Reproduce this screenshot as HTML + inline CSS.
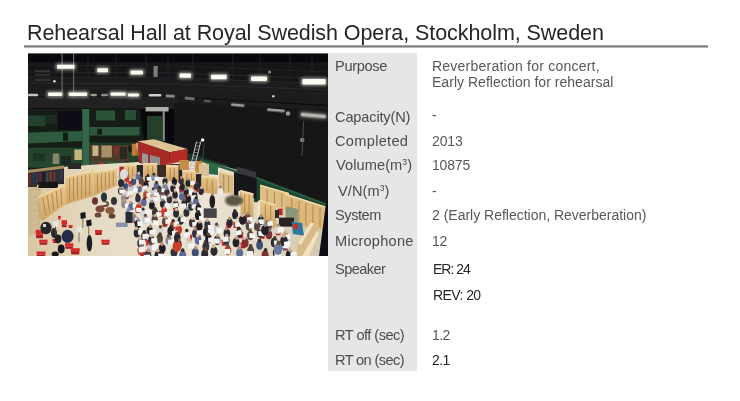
<!DOCTYPE html>
<html lang="en">
<head>
<meta charset="utf-8">
<title>Rehearsal Hall at Royal Swedish Opera, Stockholm, Sweden</title>
<style>
html,body{margin:0;padding:0;background:#fff;}
body{width:740px;height:401px;position:relative;overflow:hidden;font-family:"Liberation Sans",sans-serif;}
.t{position:absolute;white-space:nowrap;line-height:20px;will-change:transform;}
#title{left:27.1px;top:20px;letter-spacing:-0.07px;font-size:21.5px;color:#262626;line-height:26px;}
#rule{position:absolute;left:24px;top:45px;width:684px;height:3px;background:linear-gradient(#a4a4a4 0,#a4a4a4 1px,#7e7e7e 1px,#7e7e7e 2px,#b4b4b4 2px,#b4b4b4 3px);}
#grey{position:absolute;left:328px;top:53px;width:89px;height:318px;background:#e6e6e6;}
#photo{position:absolute;left:28px;top:53px;width:300px;height:203px;overflow:hidden;background:#111;}
.l{left:336px;font-size:14.6px;color:#4c4c4c;}
.v{left:433px;font-size:14px;color:#585858;}
.d{color:#262626;}
sup{font-size:8.5px;line-height:0;vertical-align:5px;}
</style>
</head>
<body>
<div id="title" class="t">Rehearsal Hall at Royal Swedish Opera, Stockholm, Sweden</div>
<div id="rule"></div>
<div id="photo"><!--PHOTO--><svg width="300" height="203" viewBox="0 0 300 203" style="display:block">
<defs>
<filter id="b1" x="-5%" y="-5%" width="110%" height="110%"><feGaussianBlur stdDeviation="0.65"/></filter>
<filter id="b2" x="-30%" y="-80%" width="160%" height="260%"><feGaussianBlur stdDeviation="1.8"/></filter>
<filter id="b3" x="-5%" y="-5%" width="110%" height="110%"><feGaussianBlur stdDeviation="0.9"/></filter>
<linearGradient id="floorg" x1="0" y1="0" x2="1" y2="0"><stop offset="0" stop-color="#d9c7a2"/><stop offset="0.25" stop-color="#e6dcc6"/><stop offset="0.6" stop-color="#ebe4d4"/><stop offset="1" stop-color="#d2c6ae"/></linearGradient>
<linearGradient id="wood" x1="0" y1="0" x2="0" y2="1"><stop offset="0" stop-color="#e9c88c"/><stop offset="1" stop-color="#d0a468"/></linearGradient>
</defs>
<rect x="0" y="0" width="300" height="203" fill="#09090d"/>
<g filter="url(#b1)">
<rect x="0" y="9" width="300" height="36" fill="#131317"/>
<polygon points="0,24 150,25 300,31 300,52 150,44 0,43" fill="#1a1a1c"/>
<line x1="0" y1="12" x2="150" y2="13" stroke="#232327" stroke-width="1.2"/>
<line x1="150" y1="13" x2="300" y2="19" stroke="#232327" stroke-width="1.2"/>
<line x1="0" y1="19" x2="150" y2="20" stroke="#2a2a2e" stroke-width="1.2"/>
<line x1="150" y1="20" x2="300" y2="26" stroke="#2a2a2e" stroke-width="1.2"/>
<line x1="0" y1="24" x2="150" y2="25" stroke="#26262a" stroke-width="1.2"/>
<line x1="150" y1="25" x2="300" y2="31" stroke="#26262a" stroke-width="1.2"/>
<line x1="0" y1="30" x2="150" y2="31" stroke="#2c2c30" stroke-width="1.2"/>
<line x1="150" y1="31" x2="300" y2="37" stroke="#2c2c30" stroke-width="1.2"/>
<line x1="0" y1="34" x2="150" y2="35" stroke="#222226" stroke-width="1.2"/>
<line x1="150" y1="35" x2="300" y2="41" stroke="#222226" stroke-width="1.2"/>
<line x1="60" y1="0" x2="60" y2="40" stroke="#222226" stroke-width="1.0"/>
<line x1="88" y1="0" x2="88" y2="40" stroke="#222226" stroke-width="1.0"/>
<line x1="118" y1="0" x2="118" y2="40" stroke="#222226" stroke-width="1.0"/>
<line x1="140" y1="0" x2="140" y2="40" stroke="#222226" stroke-width="1.0"/>
<line x1="165" y1="0" x2="165" y2="40.9" stroke="#222226" stroke-width="1.0"/>
<line x1="205" y1="0" x2="205" y2="43.3" stroke="#222226" stroke-width="1.0"/>
<line x1="232" y1="0" x2="232" y2="44.9" stroke="#222226" stroke-width="1.0"/>
<line x1="262" y1="0" x2="262" y2="46.7" stroke="#222226" stroke-width="1.0"/>
<line x1="284" y1="0" x2="284" y2="48" stroke="#222226" stroke-width="1.0"/>
<line x1="7" y1="18" x2="22" y2="18" stroke="#5a5a60" stroke-width="0.8"/>
<line x1="7" y1="22" x2="22" y2="22" stroke="#5a5a60" stroke-width="0.8"/>
<line x1="7" y1="27" x2="22" y2="27" stroke="#5a5a60" stroke-width="0.8"/>
<line x1="34.1" y1="0" x2="34.1" y2="55" stroke="#66666c" stroke-width="1.2"/>
<line x1="45.6" y1="0" x2="45.6" y2="55" stroke="#66666c" stroke-width="1.2"/>
<line x1="33" y1="50" x2="46" y2="50" stroke="#55555a" stroke-width="0.8"/>
<line x1="33" y1="45" x2="46" y2="45" stroke="#4a4a50" stroke-width="0.8"/>
<polygon points="0,43.5 150,44.5 150,56 0,55" fill="#212123"/>
<polygon points="150,44.5 300,53 300,59 150,51" fill="#1c1c1e"/>
<polygon points="0,55.5 112,56 116,88 112,112 0,120" fill="#181c16"/>
<rect x="0" y="62.5" width="18" height="10.5" fill="#24422f"/>
<rect x="17" y="62" width="12" height="9" fill="#1c2c20"/>
<rect x="68" y="57.5" width="19" height="10" fill="#2c5238"/>
<rect x="97" y="57" width="11" height="10" fill="#2a4e36"/>
<rect x="61.5" y="74" width="50" height="8.5" fill="#2e583c"/>
<rect x="69.2" y="75.8" width="4.8" height="5.8" fill="#141a14"/>
<polygon points="0,79.5 54,78 54,88 0,90.5" fill="#2d5a3c"/>
<rect x="35" y="79.7" width="5" height="8" fill="#101a15"/>
<rect x="0" y="94.6" width="54" height="20" fill="#25452f"/>
<rect x="24.7" y="100.5" width="6.5" height="10.5" fill="#86866a"/>
<rect x="46.4" y="96.5" width="7.5" height="10.5" fill="#c4b47e"/>
<rect x="33" y="103" width="10" height="9" fill="#1c2a20"/>
<rect x="5" y="100" width="12" height="8" fill="#1e3426"/>
<rect x="61" y="89.5" width="50" height="3.5" fill="#1e3826"/>
<rect x="30" y="58" width="23.8" height="19.4" fill="#0e1012"/>
<rect x="54.3" y="56" width="7" height="59.5" fill="#356648"/>
<rect x="119" y="63" width="15" height="25" fill="#223f2c"/>
<rect x="100" y="99" width="12" height="10" fill="#24402c"/>
<rect x="61.4" y="92" width="39" height="16.5" fill="#4e3b2a"/>
<rect x="64.4" y="92.5" width="6" height="10.5" fill="#c4b48c"/>
<rect x="73.4" y="92.5" width="10.5" height="12" fill="#a89068"/>
<rect x="86" y="93" width="5" height="9" fill="#7a3028"/>
<rect x="92" y="94" width="7" height="12" fill="#2a2622"/>
<rect x="61.4" y="108" width="36" height="7" fill="#3a4a38"/>
<rect x="70" y="109.5" width="6" height="4" fill="#a03040"/>
<rect x="80" y="108.5" width="8" height="4" fill="#2c5a3a"/>
<rect x="103.8" y="90.7" width="5.7" height="12" fill="#c07c36"/>
<polygon points="108,90 111,90 115,109 112,109" fill="#c8c8c8"/>
<rect x="117.6" y="54" width="23" height="4.4" fill="#b0b0a8"/>
<rect x="134.6" y="58" width="2.2" height="30" fill="#8a8a86"/>
<polygon points="146,50 300,57 300,151 226,123 176,107 146,104" fill="#151518"/>
<polygon points="160,100 200,112 200,118 176,110 160,108" fill="#1c362b"/>
<polygon points="0,117 60,112 110,109 176,108 210,117 300,152 300,203 0,203" fill="url(#floorg)"/>
<polygon points="0,134 13,133 12,178 0,184" fill="#cfba94"/>
<line x1="0" y1="138" x2="12" y2="136" stroke="#bfa985" stroke-width="0.5"/>
<line x1="0" y1="145" x2="12" y2="143" stroke="#bfa985" stroke-width="0.5"/>
<line x1="0" y1="152" x2="12" y2="150" stroke="#bfa985" stroke-width="0.5"/>
<line x1="0" y1="159" x2="12" y2="157" stroke="#bfa985" stroke-width="0.5"/>
<line x1="0" y1="166" x2="12" y2="164" stroke="#bfa985" stroke-width="0.5"/>
<line x1="0" y1="173" x2="12" y2="171" stroke="#bfa985" stroke-width="0.5"/>
<polygon points="172,106 226.5,123 300,151 300,153.6 226,125.6 172,108.6" fill="#2a5c41"/>
<polygon points="226,125 300,153 300,158 226,132" fill="#1d4533"/>
<polygon points="180,109.4 190,112 190,122 180,121" fill="#2a6a4a"/>
<polygon points="226,126 236,130 236,150 226,149" fill="#1d4533"/>
<polygon points="206,119 228.6,125 228.6,146 206,142" fill="#17171c"/>
<polygon points="209,113.5 228,119 228,125 209,119.5" fill="#38383c"/>
<polygon points="109.5,88.2 126,86.2 159.6,96 141.6,99.2" fill="#dcc294"/>
<polygon points="109.5,88.2 141.6,99.2 141.6,116 111,110" fill="#a82a26"/>
<polygon points="141.6,99.2 159.6,96 159.6,107.2 141.6,111" fill="#b42c28"/>
<polygon points="114,100 120,101.5 120,112 114,110.5" fill="#9a9a98"/>
<polygon points="122,102 132,104.5 132,114 122,112" fill="#8e8e8c"/>
<rect x="142" y="111" width="17" height="6" fill="#3a3634"/>
<rect x="151.4" y="107" width="9.6" height="10" fill="#c48c4c"/>
<rect x="167" y="108" width="7" height="12" fill="#c8883e"/>
<rect x="171" y="111" width="10" height="12" fill="#d8c098"/>
<line x1="168.6" y1="88.5" x2="161.4" y2="117.7" stroke="#c4c4cc" stroke-width="1.0"/>
<line x1="172.8" y1="88.5" x2="165.6" y2="117.7" stroke="#c4c4cc" stroke-width="1.0"/>
<line x1="168.3" y1="89.7" x2="172.5" y2="89.7" stroke="#aeaeb6" stroke-width="0.6"/>
<line x1="167.5" y1="93" x2="171.7" y2="93" stroke="#aeaeb6" stroke-width="0.6"/>
<line x1="166.7" y1="96.2" x2="170.9" y2="96.2" stroke="#aeaeb6" stroke-width="0.6"/>
<line x1="165.9" y1="99.5" x2="170.1" y2="99.5" stroke="#aeaeb6" stroke-width="0.6"/>
<line x1="165.1" y1="102.7" x2="169.3" y2="102.7" stroke="#aeaeb6" stroke-width="0.6"/>
<line x1="164.3" y1="106" x2="168.5" y2="106" stroke="#aeaeb6" stroke-width="0.6"/>
<line x1="163.5" y1="109.2" x2="167.7" y2="109.2" stroke="#aeaeb6" stroke-width="0.6"/>
<line x1="162.7" y1="112.5" x2="166.9" y2="112.5" stroke="#aeaeb6" stroke-width="0.6"/>
<line x1="161.9" y1="115.7" x2="166.1" y2="115.7" stroke="#aeaeb6" stroke-width="0.6"/>
<line x1="176.2" y1="90" x2="174.7" y2="106.5" stroke="#5a5a5a" stroke-width="0.7"/>
<polygon points="0,117 36,112.5 36,131 0,132" fill="#2b2930"/>
<polygon points="0,117 36,112.5 36,115.5 0,120" fill="#a88e5e"/>
<rect x="0.5" y="121" width="2.5" height="9.5" fill="#7a2a2a"/>
<rect x="4" y="120.6" width="2.5" height="9.5" fill="#27375a"/>
<rect x="7.5" y="120.2" width="2.5" height="9.5" fill="#3a3a3a"/>
<rect x="11" y="119.8" width="2.5" height="9.5" fill="#5a2a3a"/>
<rect x="14.5" y="119.4" width="2.5" height="9.5" fill="#1f1f25"/>
<rect x="18" y="119" width="2.5" height="9.5" fill="#444450"/>
<rect x="21.5" y="118.6" width="2.5" height="9.5" fill="#6a3a2a"/>
<rect x="25" y="118.2" width="2.5" height="9.5" fill="#7a2a2a"/>
<rect x="28.5" y="117.8" width="2.5" height="9.5" fill="#27375a"/>
<rect x="32" y="117.4" width="2.5" height="9.5" fill="#3a3a3a"/>
<rect x="10.5" y="129" width="19.5" height="6" fill="#121214"/>
<rect x="0" y="131" width="9" height="3" fill="#3a3028"/>
<rect x="40" y="110" width="13" height="6" fill="#2a2a2a"/>
</g>
<g filter="url(#b1)">
<polygon points="10,143.6 37.5,131 37.5,151.5 14.2,168" fill="url(#wood)"/>
<line x1="10" y1="144.3" x2="37.5" y2="131.7" stroke="#f2dcae" stroke-width="1.4"/>
<line x1="14.6" y1="144.5" x2="18.1" y2="163.2" stroke="#b08246" stroke-width="0.9"/>
<line x1="19.2" y1="142.4" x2="22" y2="160.5" stroke="#b08246" stroke-width="0.9"/>
<line x1="23.8" y1="140.3" x2="25.9" y2="157.8" stroke="#b08246" stroke-width="0.9"/>
<line x1="28.3" y1="138.2" x2="29.7" y2="155" stroke="#b08246" stroke-width="0.9"/>
<line x1="32.9" y1="136.1" x2="33.6" y2="152.2" stroke="#b08246" stroke-width="0.9"/>
<polygon points="10,143.6 14.2,168 11,165" fill="#c8a870"/>
<polygon points="37.5,123.3 65.6,117.1 65.6,143 37.5,151.5" fill="url(#wood)"/>
<line x1="37.5" y1="124" x2="65.6" y2="117.8" stroke="#f2dcae" stroke-width="1.4"/>
<line x1="41.5" y1="125.4" x2="41.5" y2="148.3" stroke="#b08246" stroke-width="0.9"/>
<line x1="45.5" y1="124.5" x2="45.5" y2="147.1" stroke="#b08246" stroke-width="0.9"/>
<line x1="49.5" y1="123.6" x2="49.5" y2="145.9" stroke="#b08246" stroke-width="0.9"/>
<line x1="53.6" y1="122.8" x2="53.6" y2="144.6" stroke="#b08246" stroke-width="0.9"/>
<line x1="57.6" y1="121.9" x2="57.6" y2="143.4" stroke="#b08246" stroke-width="0.9"/>
<line x1="61.6" y1="121" x2="61.6" y2="142.2" stroke="#b08246" stroke-width="0.9"/>
<polygon points="65.6,118.8 89.2,114.9 89.2,132.8 65.6,143" fill="url(#wood)"/>
<line x1="65.6" y1="119.5" x2="89.2" y2="115.6" stroke="#f2dcae" stroke-width="1.4"/>
<line x1="69.5" y1="121.2" x2="69.5" y2="139.3" stroke="#b08246" stroke-width="0.9"/>
<line x1="73.5" y1="120.5" x2="73.5" y2="137.6" stroke="#b08246" stroke-width="0.9"/>
<line x1="77.4" y1="119.8" x2="77.4" y2="135.9" stroke="#b08246" stroke-width="0.9"/>
<line x1="81.3" y1="119.2" x2="81.3" y2="134.2" stroke="#b08246" stroke-width="0.9"/>
<line x1="85.3" y1="118.6" x2="85.3" y2="132.5" stroke="#b08246" stroke-width="0.9"/>
<rect x="91.4" y="113.7" width="4.6" height="9" fill="#b82424"/>
<polygon points="96.5,111.2 108.7,111.2 108.7,125 96.5,126.5" fill="url(#wood)"/>
<line x1="96.5" y1="111.9" x2="108.7" y2="111.9" stroke="#f2dcae" stroke-width="1.4"/>
<line x1="100.6" y1="114.2" x2="100.6" y2="124" stroke="#b08246" stroke-width="0.9"/>
<line x1="104.6" y1="114.2" x2="104.6" y2="123.5" stroke="#b08246" stroke-width="0.9"/>
<rect x="108.7" y="112" width="6.5" height="12" fill="#2b2826"/>
<polygon points="115.4,110 129.2,110 129.2,124.5 115.4,125" fill="url(#wood)"/>
<line x1="115.4" y1="110.7" x2="129.2" y2="110.7" stroke="#f2dcae" stroke-width="1.4"/>
<line x1="120" y1="113" x2="120" y2="122.8" stroke="#b08246" stroke-width="0.9"/>
<line x1="124.6" y1="113" x2="124.6" y2="122.7" stroke="#b08246" stroke-width="0.9"/>
<rect x="129.2" y="112" width="8.8" height="12" fill="#3a2a28"/>
<polygon points="138,111.7 150.5,112.5 150.5,129 138,128" fill="url(#wood)"/>
<line x1="138" y1="112.4" x2="150.5" y2="113.2" stroke="#f2dcae" stroke-width="1.4"/>
<line x1="142.2" y1="115" x2="142.2" y2="126.3" stroke="#b08246" stroke-width="0.9"/>
<line x1="146.3" y1="115.2" x2="146.3" y2="126.7" stroke="#b08246" stroke-width="0.9"/>
<rect x="150.5" y="117" width="4" height="13" fill="#262424"/>
<polygon points="154.4,117 168,118 168,136 154.4,134.5" fill="url(#wood)"/>
<line x1="154.4" y1="117.7" x2="168" y2="118.7" stroke="#f2dcae" stroke-width="1.4"/>
<line x1="158.9" y1="120.3" x2="158.9" y2="133" stroke="#b08246" stroke-width="0.9"/>
<line x1="163.5" y1="120.7" x2="163.5" y2="133.5" stroke="#b08246" stroke-width="0.9"/>
<rect x="168" y="121" width="5.5" height="14" fill="#2a2826"/>
<polygon points="173.5,122.5 189.7,124 189.7,141 173.5,139.5" fill="url(#wood)"/>
<line x1="173.5" y1="123.2" x2="189.7" y2="124.7" stroke="#f2dcae" stroke-width="1.4"/>
<line x1="178.9" y1="126" x2="178.9" y2="138" stroke="#b08246" stroke-width="0.9"/>
<line x1="184.3" y1="126.5" x2="184.3" y2="138.5" stroke="#b08246" stroke-width="0.9"/>
<polygon points="190.8,118 205.5,121 205.5,141 190.8,139.5" fill="#d8b884"/>
<line x1="190.8" y1="118.7" x2="205.5" y2="121.7" stroke="#f2dcae" stroke-width="1.4"/>
<line x1="195.7" y1="122" x2="195.7" y2="138" stroke="#b08246" stroke-width="0.9"/>
<line x1="200.6" y1="123" x2="200.6" y2="138.5" stroke="#b08246" stroke-width="0.9"/>
<polygon points="212.4,137 225.4,140.5 225.4,165.2 212.4,161" fill="url(#wood)"/>
<line x1="212.4" y1="137.7" x2="225.4" y2="141.2" stroke="#f2dcae" stroke-width="1.4"/>
<line x1="216.7" y1="141.2" x2="216.7" y2="160.4" stroke="#b08246" stroke-width="0.9"/>
<line x1="221.1" y1="142.3" x2="221.1" y2="161.8" stroke="#b08246" stroke-width="0.9"/>
<polygon points="210.4,138.5 212.4,137 212.4,161 210.4,160" fill="#f3e6c6"/>
<polygon points="232,131.6 261,140 261,158 232,150" fill="#dfbe84"/>
<line x1="232" y1="132.3" x2="261" y2="140.7" stroke="#f2dcae" stroke-width="1.4"/>
<line x1="239.2" y1="136.7" x2="239.2" y2="150" stroke="#b08246" stroke-width="0.9"/>
<line x1="246.5" y1="138.8" x2="246.5" y2="152" stroke="#b08246" stroke-width="0.9"/>
<line x1="253.8" y1="140.9" x2="253.8" y2="154" stroke="#b08246" stroke-width="0.9"/>
<polygon points="231.9,146.8 248,151.5 248,176 231.9,170.5" fill="url(#wood)"/>
<line x1="231.9" y1="147.5" x2="248" y2="152.2" stroke="#f2dcae" stroke-width="1.4"/>
<line x1="237.3" y1="151.4" x2="237.3" y2="170.3" stroke="#b08246" stroke-width="0.9"/>
<line x1="242.6" y1="152.9" x2="242.6" y2="172.2" stroke="#b08246" stroke-width="0.9"/>
<polygon points="229.6,148.5 231.9,146.8 231.9,170.5 229.6,169.5" fill="#f3e6c6"/>
<polygon points="256.8,140.3 299,154 299,177 256.8,172" fill="#dcb87e"/>
<line x1="256.8" y1="141" x2="299" y2="154.7" stroke="#f2dcae" stroke-width="1.4"/>
<line x1="263.8" y1="145.6" x2="263.8" y2="170.8" stroke="#b08246" stroke-width="0.9"/>
<line x1="270.9" y1="147.9" x2="270.9" y2="171.7" stroke="#b08246" stroke-width="0.9"/>
<line x1="277.9" y1="150.2" x2="277.9" y2="172.5" stroke="#b08246" stroke-width="0.9"/>
<line x1="284.9" y1="152.4" x2="284.9" y2="173.3" stroke="#b08246" stroke-width="0.9"/>
<line x1="292" y1="154.7" x2="292" y2="174.2" stroke="#b08246" stroke-width="0.9"/>
<polygon points="257.8,153.3 269.7,156 269.7,169 257.8,167" fill="#87967c"/>
<polygon points="269.7,190 283,169.5 291,172 289,186 280,203 268,203" fill="#d6ba88"/>
<polygon points="269.7,190 283,169.5 286,170.5 273,192" fill="#f1e2bc"/>
<polygon points="274,203 289,178 291,180 281,203" fill="#f1e2bc"/>
<polygon points="300,149 298,150 294.5,177 291,203 300,203" fill="#0f0f12"/>
<rect x="249.6" y="155.7" width="5" height="6.5" fill="#b82828"/>
<rect x="251" y="164.6" width="15" height="9" fill="#2a2420"/>
<polygon points="263.6,168.4 274,170 276,182.4 265,181" fill="#2a7a9a"/>
<rect x="265" y="171" width="5" height="5" fill="#c03030"/>
<rect x="247" y="157" width="4" height="8" fill="#2a2a30"/>
</g>
<g filter="url(#b1)">
<ellipse cx="93.2" cy="123" rx="2.5" ry="3.5" fill="#8a8a90"/>
<ellipse cx="93" cy="119.5" rx="1.3" ry="1.4" fill="#6a4a3a"/>
<polygon points="91.4,123.8 95.9,123.9 96.1,127.7 91.6,127.6" fill="#f4f4f2"/>
<ellipse cx="110.2" cy="123.6" rx="2.5" ry="3.5" fill="#5a6a98"/>
<ellipse cx="110.7" cy="120.2" rx="1.3" ry="1.4" fill="#d8c0a8"/>
<ellipse cx="125.7" cy="124.6" rx="2.5" ry="3.5" fill="#7a8ab0"/>
<ellipse cx="125.9" cy="121.2" rx="1.3" ry="1.4" fill="#3a2a22"/>
<polygon points="126.4,123.9 130.9,123.6 131.1,127.5 126.6,127.7" fill="#f4f4f2"/>
<ellipse cx="119.3" cy="126" rx="2.5" ry="3.5" fill="#25252d"/>
<ellipse cx="119.9" cy="122.5" rx="1.3" ry="1.4" fill="#3a2a22"/>
<polygon points="118.6,124 123.2,124 123.3,127.8 118.8,127.8" fill="#f4f4f2"/>
<ellipse cx="98.7" cy="126" rx="2.5" ry="3.5" fill="#c23a2c"/>
<ellipse cx="99.3" cy="122.5" rx="1.3" ry="1.4" fill="#6a4a3a"/>
<ellipse cx="153.3" cy="128" rx="2.6" ry="3.5" fill="#3a3038"/>
<ellipse cx="153.4" cy="124.5" rx="1.3" ry="1.4" fill="#b89078"/>
<ellipse cx="91.8" cy="128.1" rx="2.6" ry="3.5" fill="#d8d8dc"/>
<ellipse cx="91.7" cy="124.5" rx="1.3" ry="1.4" fill="#b89078"/>
<rect x="113.1" y="127.7" width="5.2" height="3.6" fill="#d42a2c"/>
<rect x="113.4" y="131.3" width="4.6" height="2.4" fill="#ac2022"/>
<ellipse cx="113.2" cy="128.2" rx="2.6" ry="3.5" fill="#54453f"/>
<ellipse cx="113.8" cy="124.7" rx="1.3" ry="1.4" fill="#6a4a3a"/>
<ellipse cx="137" cy="128.4" rx="2.6" ry="3.6" fill="#25252d"/>
<ellipse cx="137.1" cy="124.8" rx="1.3" ry="1.4" fill="#8a8a8a"/>
<rect x="100.3" y="127.9" width="5.2" height="3.6" fill="#d42a2c"/>
<rect x="100.6" y="131.5" width="4.6" height="2.4" fill="#ac2022"/>
<ellipse cx="105.6" cy="128.4" rx="2.6" ry="3.6" fill="#3d4f78"/>
<ellipse cx="106" cy="124.9" rx="1.3" ry="1.4" fill="#d8c0a8"/>
<ellipse cx="146.4" cy="128.8" rx="2.6" ry="3.6" fill="#1c1c22"/>
<ellipse cx="145.8" cy="125.3" rx="1.3" ry="1.4" fill="#3a2a22"/>
<ellipse cx="160.1" cy="130.2" rx="2.6" ry="3.6" fill="#23232b"/>
<ellipse cx="160.2" cy="126.6" rx="1.3" ry="1.4" fill="#8a8a8a"/>
<polygon points="162.2,128 166.9,128.2 167.1,132.1 162.4,131.9" fill="#f4f4f2"/>
<ellipse cx="118" cy="132.1" rx="2.6" ry="3.6" fill="#1c1c22"/>
<ellipse cx="118.3" cy="128.5" rx="1.4" ry="1.4" fill="#3a2a22"/>
<polygon points="114.8,132.9 119.5,132.2 119.7,136.1 115,136.8" fill="#f4f4f2"/>
<ellipse cx="128.3" cy="132.9" rx="2.6" ry="3.6" fill="#5a6a98"/>
<ellipse cx="128.6" cy="129.3" rx="1.4" ry="1.5" fill="#3a2a22"/>
<ellipse cx="97.5" cy="133.1" rx="2.6" ry="3.6" fill="#3d4f78"/>
<ellipse cx="97" cy="129.5" rx="1.4" ry="1.5" fill="#b89078"/>
<rect x="165.4" y="133.1" width="5.2" height="3.6" fill="#d42a2c"/>
<rect x="165.7" y="136.7" width="4.6" height="2.4" fill="#ac2022"/>
<ellipse cx="168.5" cy="133.6" rx="2.6" ry="3.6" fill="#2a2a35"/>
<ellipse cx="168.4" cy="129.9" rx="1.4" ry="1.5" fill="#6a4a3a"/>
<rect x="150.9" y="133.6" width="5.2" height="3.6" fill="#d42a2c"/>
<rect x="151.2" y="137.2" width="4.6" height="2.4" fill="#ac2022"/>
<ellipse cx="154.3" cy="134.1" rx="2.6" ry="3.7" fill="#23232b"/>
<ellipse cx="153.9" cy="130.4" rx="1.4" ry="1.5" fill="#3a2a22"/>
<rect x="135" y="133.8" width="5.2" height="3.6" fill="#d42a2c"/>
<rect x="135.3" y="137.4" width="4.6" height="2.4" fill="#ac2022"/>
<ellipse cx="137" cy="134.3" rx="2.7" ry="3.7" fill="#7a8ab0"/>
<ellipse cx="137.1" cy="130.6" rx="1.4" ry="1.5" fill="#d0b090"/>
<ellipse cx="144.9" cy="135.6" rx="2.7" ry="3.7" fill="#23232b"/>
<ellipse cx="145.3" cy="131.9" rx="1.4" ry="1.5" fill="#b89078"/>
<polygon points="145.9,135.7 150.6,136 150.8,140.1 146,139.8" fill="#f4f4f2"/>
<ellipse cx="111.1" cy="136.1" rx="2.7" ry="3.7" fill="#5a6a98"/>
<ellipse cx="110.6" cy="132.4" rx="1.4" ry="1.5" fill="#d8c0a8"/>
<ellipse cx="103.4" cy="136.3" rx="2.7" ry="3.7" fill="#c4c8d4"/>
<ellipse cx="102.8" cy="132.6" rx="1.4" ry="1.5" fill="#8a8a8a"/>
<polygon points="104.9,135.4 109.7,134.5 109.9,138.6 105.1,139.5" fill="#f4f4f2"/>
<rect x="132.2" y="137.3" width="5.2" height="3.6" fill="#d42a2c"/>
<rect x="132.5" y="140.9" width="4.6" height="2.4" fill="#ac2022"/>
<ellipse cx="131.8" cy="137.8" rx="2.7" ry="3.7" fill="#54453f"/>
<ellipse cx="131.5" cy="134.1" rx="1.4" ry="1.5" fill="#3a2a22"/>
<polygon points="133.4,135.5 138.2,135.6 138.4,139.7 133.6,139.5" fill="#f4f4f2"/>
<ellipse cx="92.6" cy="138.1" rx="2.7" ry="3.7" fill="#33333d"/>
<ellipse cx="92.3" cy="134.4" rx="1.4" ry="1.5" fill="#b89078"/>
<polygon points="91.2,136.4 96,136.7 96.2,140.8 91.4,140.5" fill="#f4f4f2"/>
<ellipse cx="173.1" cy="138.2" rx="2.7" ry="3.7" fill="#2a2a35"/>
<ellipse cx="173.4" cy="134.4" rx="1.4" ry="1.5" fill="#d8c0a8"/>
<rect x="124.3" y="139" width="5.2" height="3.6" fill="#d42a2c"/>
<rect x="124.6" y="142.6" width="4.6" height="2.4" fill="#ac2022"/>
<ellipse cx="124.6" cy="139.5" rx="2.7" ry="3.8" fill="#c4c8d4"/>
<ellipse cx="125.2" cy="135.8" rx="1.4" ry="1.5" fill="#4a3a30"/>
<polygon points="126,139.1 130.9,139.5 131.1,143.6 126.2,143.2" fill="#f4f4f2"/>
<ellipse cx="138.9" cy="139.6" rx="2.7" ry="3.8" fill="#30303a"/>
<ellipse cx="138.2" cy="135.8" rx="1.4" ry="1.5" fill="#8a8a8a"/>
<rect x="155.3" y="139.1" width="5.2" height="3.6" fill="#d42a2c"/>
<rect x="155.6" y="142.7" width="4.6" height="2.4" fill="#ac2022"/>
<ellipse cx="158.6" cy="139.6" rx="2.7" ry="3.8" fill="#23232b"/>
<ellipse cx="158.3" cy="135.8" rx="1.4" ry="1.5" fill="#8a8a8a"/>
<polygon points="160.6,137.7 165.5,136.7 165.7,140.8 160.8,141.9" fill="#f4f4f2"/>
<rect x="96.4" y="140.1" width="5.2" height="3.6" fill="#d42a2c"/>
<rect x="96.7" y="143.7" width="4.6" height="2.4" fill="#ac2022"/>
<ellipse cx="99" cy="140.6" rx="2.7" ry="3.8" fill="#d8d8dc"/>
<ellipse cx="98.8" cy="136.8" rx="1.4" ry="1.5" fill="#8a8a8a"/>
<polygon points="99.5,138.7 104.4,137.3 104.6,141.5 99.7,142.8" fill="#f4f4f2"/>
<ellipse cx="117.8" cy="141.7" rx="2.7" ry="3.8" fill="#c23a2c"/>
<ellipse cx="117.5" cy="137.9" rx="1.4" ry="1.5" fill="#b89078"/>
<polygon points="118.3,140 123.2,139.5 123.4,143.7 118.5,144.2" fill="#f4f4f2"/>
<ellipse cx="147" cy="141.9" rx="2.8" ry="3.8" fill="#25252d"/>
<ellipse cx="147.1" cy="138.1" rx="1.4" ry="1.5" fill="#c8a088"/>
<ellipse cx="166.6" cy="142.4" rx="2.8" ry="3.8" fill="#2a2a35"/>
<ellipse cx="167" cy="138.6" rx="1.4" ry="1.5" fill="#d0b090"/>
<polygon points="163.1,142.7 168,141.8 168.2,145.9 163.3,146.9" fill="#f4f4f2"/>
<ellipse cx="153.8" cy="143.6" rx="2.8" ry="3.8" fill="#5a6a98"/>
<ellipse cx="153.6" cy="139.8" rx="1.4" ry="1.5" fill="#8a8a8a"/>
<ellipse cx="134.9" cy="144.3" rx="2.8" ry="3.8" fill="#8a8a90"/>
<ellipse cx="134.5" cy="140.5" rx="1.4" ry="1.5" fill="#6a4a3a"/>
<polygon points="133,142.8 138,142.4 138.2,146.6 133.2,147" fill="#f4f4f2"/>
<ellipse cx="110" cy="145.4" rx="2.8" ry="3.9" fill="#33333d"/>
<ellipse cx="109.6" cy="141.6" rx="1.4" ry="1.5" fill="#3a2a22"/>
<ellipse cx="95.8" cy="145.7" rx="2.8" ry="3.9" fill="#8a8a90"/>
<ellipse cx="96.5" cy="141.8" rx="1.4" ry="1.5" fill="#d8c0a8"/>
<ellipse cx="160.4" cy="146.1" rx="2.8" ry="3.9" fill="#23232b"/>
<ellipse cx="160.3" cy="142.3" rx="1.5" ry="1.5" fill="#b89078"/>
<ellipse cx="123.8" cy="146.4" rx="2.8" ry="3.9" fill="#d8d8dc"/>
<ellipse cx="123.6" cy="142.5" rx="1.5" ry="1.6" fill="#b89078"/>
<polygon points="125.5,144 130.5,143.4 130.7,147.7 125.7,148.3" fill="#f4f4f2"/>
<ellipse cx="141.5" cy="146.6" rx="2.8" ry="3.9" fill="#3a3038"/>
<ellipse cx="140.8" cy="142.7" rx="1.5" ry="1.6" fill="#d0b090"/>
<ellipse cx="103.1" cy="147.1" rx="2.8" ry="3.9" fill="#e4e0d8"/>
<ellipse cx="103.3" cy="143.2" rx="1.5" ry="1.6" fill="#d8c0a8"/>
<ellipse cx="167.9" cy="148.5" rx="2.8" ry="3.9" fill="#5a6a98"/>
<ellipse cx="168.2" cy="144.6" rx="1.5" ry="1.6" fill="#3a2a22"/>
<ellipse cx="115.8" cy="149.4" rx="2.8" ry="3.9" fill="#5a6a98"/>
<ellipse cx="116.4" cy="145.5" rx="1.5" ry="1.6" fill="#4a3a30"/>
<ellipse cx="156.2" cy="150.7" rx="2.9" ry="4" fill="#25252d"/>
<ellipse cx="156.5" cy="146.8" rx="1.5" ry="1.6" fill="#6a4a3a"/>
<polygon points="152.8,150.6 158,150.4 158.2,154.7 153,154.9" fill="#f4f4f2"/>
<ellipse cx="134.9" cy="150.9" rx="2.9" ry="4" fill="#25252d"/>
<ellipse cx="134.5" cy="146.9" rx="1.5" ry="1.6" fill="#8a8a8a"/>
<polygon points="136.4,150 141.6,150.5 141.8,154.8 136.6,154.4" fill="#f4f4f2"/>
<ellipse cx="96.1" cy="151.3" rx="2.9" ry="4" fill="#8a8a90"/>
<ellipse cx="95.9" cy="147.4" rx="1.5" ry="1.6" fill="#c8a088"/>
<polygon points="96.8,150.5 102,149.2 102.2,153.6 97,154.9" fill="#f4f4f2"/>
<rect x="144.8" y="150.9" width="5.2" height="3.6" fill="#d42a2c"/>
<rect x="145.1" y="154.5" width="4.6" height="2.4" fill="#ac2022"/>
<ellipse cx="147.7" cy="151.4" rx="2.9" ry="4" fill="#2a2a35"/>
<ellipse cx="148" cy="147.4" rx="1.5" ry="1.6" fill="#d0b090"/>
<polygon points="144.9,150.6 150,149.7 150.2,154.1 145.1,155" fill="#f4f4f2"/>
<ellipse cx="123.9" cy="152.4" rx="2.9" ry="4" fill="#1f1f27"/>
<ellipse cx="124" cy="148.4" rx="1.5" ry="1.6" fill="#8a8a8a"/>
<ellipse cx="103.2" cy="153.5" rx="2.9" ry="4" fill="#5a6a98"/>
<ellipse cx="102.7" cy="149.5" rx="1.5" ry="1.6" fill="#b89078"/>
<polygon points="104.6,150.9 109.9,151.1 110.1,155.5 104.8,155.3" fill="#f4f4f2"/>
<ellipse cx="163" cy="153.7" rx="2.9" ry="4" fill="#2b2b33"/>
<ellipse cx="163.1" cy="149.7" rx="1.5" ry="1.6" fill="#8a8a8a"/>
<polygon points="163.5,151.4 168.7,150.9 168.9,155.3 163.7,155.8" fill="#f4f4f2"/>
<rect x="107.2" y="153.9" width="5.2" height="3.6" fill="#d42a2c"/>
<rect x="107.5" y="157.5" width="4.6" height="2.4" fill="#ac2022"/>
<ellipse cx="110.8" cy="154.4" rx="2.9" ry="4" fill="#c23a2c"/>
<ellipse cx="111.4" cy="150.4" rx="1.5" ry="1.6" fill="#b89078"/>
<polygon points="108.1,154.7 113.4,154.9 113.6,159.3 108.3,159.1" fill="#f4f4f2"/>
<ellipse cx="170.4" cy="155.2" rx="2.9" ry="4" fill="#1f1f27"/>
<ellipse cx="170.1" cy="151.1" rx="1.5" ry="1.6" fill="#4a3a30"/>
<polygon points="169.2,154.3 174.5,154.7 174.7,159.1 169.4,158.7" fill="#f4f4f2"/>
<rect x="130.7" y="158" width="5.2" height="3.6" fill="#d42a2c"/>
<rect x="131" y="161.6" width="4.6" height="2.4" fill="#ac2022"/>
<ellipse cx="136.2" cy="158.5" rx="3" ry="4.1" fill="#c23a2c"/>
<ellipse cx="136.2" cy="154.4" rx="1.5" ry="1.6" fill="#c8a088"/>
<polygon points="136.2,159.2 141.6,157.9 141.8,162.4 136.4,163.7" fill="#f4f4f2"/>
<ellipse cx="127" cy="159.7" rx="3" ry="4.1" fill="#30303a"/>
<ellipse cx="127.1" cy="155.6" rx="1.5" ry="1.6" fill="#4a3a30"/>
<polygon points="128.1,158.9 133.5,159.2 133.7,163.8 128.3,163.4" fill="#f4f4f2"/>
<ellipse cx="100.9" cy="159.8" rx="3" ry="4.1" fill="#7a8ab0"/>
<ellipse cx="100.6" cy="155.7" rx="1.5" ry="1.6" fill="#8a8a8a"/>
<polygon points="101.8,157.8 107.1,157.5 107.3,162 102,162.3" fill="#f4f4f2"/>
<ellipse cx="158.4" cy="159.8" rx="3" ry="4.1" fill="#2b2b33"/>
<ellipse cx="159.1" cy="155.7" rx="1.5" ry="1.6" fill="#8a8a8a"/>
<ellipse cx="115.2" cy="160.2" rx="3" ry="4.1" fill="#d8d8dc"/>
<ellipse cx="115.2" cy="156.1" rx="1.5" ry="1.6" fill="#3a2a22"/>
<polygon points="117,157 122.4,157 122.6,161.6 117.2,161.5" fill="#f4f4f2"/>
<ellipse cx="148.1" cy="160.6" rx="3" ry="4.1" fill="#2a2a35"/>
<ellipse cx="148.4" cy="156.5" rx="1.5" ry="1.7" fill="#d8c0a8"/>
<ellipse cx="207.1" cy="161.9" rx="3" ry="4.2" fill="#25252d"/>
<ellipse cx="206.8" cy="157.8" rx="1.6" ry="1.7" fill="#3a2a22"/>
<ellipse cx="169.9" cy="162.8" rx="3" ry="4.2" fill="#1c1c22"/>
<ellipse cx="170.4" cy="158.6" rx="1.6" ry="1.7" fill="#3a2a22"/>
<polygon points="171,163.3 176.4,162 176.6,166.5 171.2,167.9" fill="#f4f4f2"/>
<rect x="105" y="164.3" width="5.2" height="3.6" fill="#d42a2c"/>
<rect x="105.3" y="167.9" width="4.6" height="2.4" fill="#ac2022"/>
<ellipse cx="105.4" cy="164.8" rx="3" ry="4.2" fill="#8a8a90"/>
<ellipse cx="105.5" cy="160.6" rx="1.6" ry="1.7" fill="#c8a088"/>
<polygon points="106.9,165.1 112.3,164.6 112.5,169.3 107.1,169.7" fill="#f4f4f2"/>
<rect x="215.6" y="164.6" width="5.2" height="3.6" fill="#d42a2c"/>
<rect x="215.9" y="168.2" width="4.6" height="2.4" fill="#ac2022"/>
<ellipse cx="219.5" cy="165.1" rx="3.1" ry="4.2" fill="#7a3030"/>
<ellipse cx="219.7" cy="160.9" rx="1.6" ry="1.7" fill="#8a8a8a"/>
<polygon points="219,164.3 224.5,163.7 224.7,168.4 219.2,168.9" fill="#f4f4f2"/>
<ellipse cx="117.2" cy="166.6" rx="3.1" ry="4.2" fill="#c8c8cc"/>
<ellipse cx="117.4" cy="162.4" rx="1.6" ry="1.7" fill="#6a4a3a"/>
<polygon points="116.5,165.3 122,164.7 122.2,169.3 116.7,170" fill="#f4f4f2"/>
<ellipse cx="126.7" cy="166.6" rx="3.1" ry="4.2" fill="#54453f"/>
<ellipse cx="127.1" cy="162.4" rx="1.6" ry="1.7" fill="#d0b090"/>
<polygon points="124.6,167 130.1,167.6 130.3,172.2 124.8,171.6" fill="#f4f4f2"/>
<ellipse cx="152.7" cy="167.6" rx="3.1" ry="4.3" fill="#2a2a35"/>
<ellipse cx="153.3" cy="163.3" rx="1.6" ry="1.7" fill="#d0b090"/>
<polygon points="152.5,164.4 158,164.2 158.2,168.9 152.7,169" fill="#f4f4f2"/>
<ellipse cx="232.9" cy="167.6" rx="3.1" ry="4.3" fill="#25252d"/>
<ellipse cx="232.9" cy="163.3" rx="1.6" ry="1.7" fill="#8a8a8a"/>
<polygon points="230.3,166.5 235.8,166.3 236.1,171 230.5,171.1" fill="#f4f4f2"/>
<rect x="134.3" y="167.8" width="5.2" height="3.6" fill="#d42a2c"/>
<rect x="134.6" y="171.4" width="4.6" height="2.4" fill="#ac2022"/>
<ellipse cx="137.2" cy="168.3" rx="3.1" ry="4.3" fill="#54453f"/>
<ellipse cx="137.3" cy="164.1" rx="1.6" ry="1.7" fill="#c8a088"/>
<polygon points="137.3,166.6 142.8,165.4 143,170.1 137.5,171.3" fill="#f4f4f2"/>
<rect x="205.3" y="168.9" width="5.2" height="3.6" fill="#d42a2c"/>
<rect x="205.6" y="172.5" width="4.6" height="2.4" fill="#ac2022"/>
<ellipse cx="210.7" cy="169.4" rx="3.1" ry="4.3" fill="#d8d4cc"/>
<ellipse cx="210" cy="165.1" rx="1.6" ry="1.7" fill="#d8c0a8"/>
<polygon points="207.1,169.3 212.7,169.2 212.9,173.9 207.4,174.1" fill="#f4f4f2"/>
<rect x="198" y="169.2" width="5.2" height="3.6" fill="#d42a2c"/>
<rect x="198.3" y="172.8" width="4.6" height="2.4" fill="#ac2022"/>
<ellipse cx="201.7" cy="169.7" rx="3.1" ry="4.3" fill="#2b2b33"/>
<ellipse cx="201.6" cy="165.4" rx="1.6" ry="1.7" fill="#b89078"/>
<ellipse cx="164.1" cy="169.9" rx="3.1" ry="4.3" fill="#3a3038"/>
<ellipse cx="164.3" cy="165.6" rx="1.6" ry="1.7" fill="#d8c0a8"/>
<polygon points="164.2,169.1 169.7,168.8 170,173.5 164.4,173.8" fill="#f4f4f2"/>
<ellipse cx="109.8" cy="171.1" rx="3.1" ry="4.3" fill="#1c1c22"/>
<ellipse cx="110.2" cy="166.8" rx="1.6" ry="1.7" fill="#8a8a8a"/>
<polygon points="109.2,168.2 114.8,168.2 115,173 109.4,173" fill="#f4f4f2"/>
<rect x="238.5" y="170.8" width="5.2" height="3.6" fill="#d42a2c"/>
<rect x="238.8" y="174.4" width="4.6" height="2.4" fill="#ac2022"/>
<ellipse cx="240.8" cy="171.3" rx="3.1" ry="4.3" fill="#54453f"/>
<ellipse cx="241.4" cy="167" rx="1.6" ry="1.7" fill="#c8a088"/>
<polygon points="239.2,168.6 244.8,167.7 245,172.4 239.4,173.3" fill="#f4f4f2"/>
<ellipse cx="179.4" cy="171.8" rx="3.1" ry="4.3" fill="#30303a"/>
<ellipse cx="179.3" cy="167.4" rx="1.6" ry="1.7" fill="#c8a088"/>
<polygon points="179.8,172.1 185.4,171.8 185.6,176.6 180,176.8" fill="#f4f4f2"/>
<ellipse cx="145.2" cy="172" rx="3.1" ry="4.3" fill="#c23a2c"/>
<ellipse cx="145.2" cy="167.7" rx="1.6" ry="1.7" fill="#3a2a22"/>
<polygon points="145.5,169.3 151.1,168.2 151.3,173 145.7,174.1" fill="#f4f4f2"/>
<ellipse cx="220.8" cy="173.1" rx="3.2" ry="4.4" fill="#54453f"/>
<ellipse cx="220.9" cy="168.8" rx="1.6" ry="1.7" fill="#8a8a8a"/>
<polygon points="220.9,170.9 226.6,169.7 226.8,174.5 221.1,175.7" fill="#f4f4f2"/>
<rect x="166.7" y="172.7" width="5.2" height="3.6" fill="#d42a2c"/>
<rect x="167" y="176.3" width="4.6" height="2.4" fill="#ac2022"/>
<ellipse cx="171.4" cy="173.2" rx="3.2" ry="4.4" fill="#1c1c22"/>
<ellipse cx="171.7" cy="168.9" rx="1.6" ry="1.7" fill="#c8a088"/>
<ellipse cx="229.2" cy="173.4" rx="3.2" ry="4.4" fill="#54453f"/>
<ellipse cx="229" cy="169.1" rx="1.6" ry="1.7" fill="#d8c0a8"/>
<ellipse cx="189.1" cy="175.7" rx="3.2" ry="4.4" fill="#c8c8cc"/>
<ellipse cx="188.6" cy="171.3" rx="1.7" ry="1.8" fill="#6a4a3a"/>
<polygon points="188.3,175.1 194,174.6 194.2,179.5 188.5,179.9" fill="#f4f4f2"/>
<rect x="247.5" y="176.2" width="5.2" height="3.6" fill="#d42a2c"/>
<rect x="247.8" y="179.8" width="4.6" height="2.4" fill="#ac2022"/>
<ellipse cx="250" cy="176.7" rx="3.2" ry="4.4" fill="#d8d4cc"/>
<ellipse cx="249.9" cy="172.3" rx="1.7" ry="1.8" fill="#b89078"/>
<polygon points="249.9,174.5 255.6,174.1 255.9,179 250.1,179.4" fill="#f4f4f2"/>
<rect x="147.1" y="176.3" width="5.2" height="3.6" fill="#d42a2c"/>
<rect x="147.4" y="179.9" width="4.6" height="2.4" fill="#ac2022"/>
<ellipse cx="150.8" cy="176.8" rx="3.2" ry="4.4" fill="#c23a2c"/>
<ellipse cx="150.1" cy="172.3" rx="1.7" ry="1.8" fill="#d0b090"/>
<ellipse cx="121.7" cy="177.6" rx="3.2" ry="4.4" fill="#25252d"/>
<ellipse cx="122.4" cy="173.2" rx="1.7" ry="1.8" fill="#b89078"/>
<polygon points="121.2,177.5 127,176.1 127.2,181 121.5,182.4" fill="#f4f4f2"/>
<ellipse cx="132.1" cy="178.2" rx="3.2" ry="4.4" fill="#d8d4cc"/>
<ellipse cx="132.5" cy="173.8" rx="1.7" ry="1.8" fill="#6a4a3a"/>
<ellipse cx="142.6" cy="178.2" rx="3.2" ry="4.4" fill="#23232b"/>
<ellipse cx="143" cy="173.8" rx="1.7" ry="1.8" fill="#3a2a22"/>
<polygon points="143.9,178.1 149.7,177.6 149.9,182.5 144.2,183" fill="#f4f4f2"/>
<ellipse cx="178.2" cy="179.3" rx="3.2" ry="4.5" fill="#1f1f27"/>
<ellipse cx="177.7" cy="174.8" rx="1.7" ry="1.8" fill="#4a3a30"/>
<polygon points="179.7,176.3 185.5,176.4 185.8,181.3 180,181.2" fill="#f4f4f2"/>
<rect x="210" y="179.3" width="5.2" height="3.6" fill="#d42a2c"/>
<rect x="210.3" y="182.9" width="4.6" height="2.4" fill="#ac2022"/>
<ellipse cx="211.1" cy="179.8" rx="3.2" ry="4.5" fill="#25252d"/>
<ellipse cx="210.9" cy="175.3" rx="1.7" ry="1.8" fill="#3a2a22"/>
<polygon points="207.7,177.9 213.5,176.6 213.7,181.5 207.9,182.8" fill="#f4f4f2"/>
<ellipse cx="108.9" cy="179.9" rx="3.2" ry="4.5" fill="#2b2b33"/>
<ellipse cx="108.3" cy="175.4" rx="1.7" ry="1.8" fill="#d0b090"/>
<polygon points="110,177.1 115.8,175.9 116,180.8 110.2,182.1" fill="#f4f4f2"/>
<rect x="231.7" y="179.7" width="5.2" height="3.6" fill="#d42a2c"/>
<rect x="232" y="183.3" width="4.6" height="2.4" fill="#ac2022"/>
<ellipse cx="232.2" cy="180.2" rx="3.3" ry="4.5" fill="#3a3038"/>
<ellipse cx="232.9" cy="175.7" rx="1.7" ry="1.8" fill="#d0b090"/>
<polygon points="230.2,177.9 236,178.4 236.2,183.3 230.4,182.8" fill="#f4f4f2"/>
<ellipse cx="198.9" cy="180.2" rx="3.3" ry="4.5" fill="#2a2a35"/>
<ellipse cx="198.3" cy="175.7" rx="1.7" ry="1.8" fill="#b89078"/>
<rect x="167.5" y="179.9" width="5.2" height="3.6" fill="#d42a2c"/>
<rect x="167.8" y="183.5" width="4.6" height="2.4" fill="#ac2022"/>
<ellipse cx="167.4" cy="180.4" rx="3.3" ry="4.5" fill="#30303a"/>
<ellipse cx="167.2" cy="175.9" rx="1.7" ry="1.8" fill="#b89078"/>
<polygon points="168.7,177.6 174.5,177.1 174.7,182.1 168.9,182.5" fill="#f4f4f2"/>
<ellipse cx="240.9" cy="181.7" rx="3.3" ry="4.5" fill="#7a3030"/>
<ellipse cx="241.2" cy="177.2" rx="1.7" ry="1.8" fill="#8a8a8a"/>
<rect x="159" y="181.6" width="5.2" height="3.6" fill="#d42a2c"/>
<rect x="159.3" y="185.2" width="4.6" height="2.4" fill="#ac2022"/>
<ellipse cx="158.9" cy="182.1" rx="3.3" ry="4.5" fill="#d8d4cc"/>
<ellipse cx="158.8" cy="177.6" rx="1.7" ry="1.8" fill="#3a2a22"/>
<polygon points="155.8,180 161.7,178.9 161.9,183.9 156,184.9" fill="#f4f4f2"/>
<ellipse cx="222.4" cy="182.5" rx="3.3" ry="4.5" fill="#54453f"/>
<ellipse cx="222.2" cy="178" rx="1.7" ry="1.8" fill="#6a4a3a"/>
<polygon points="221.3,180.1 227.2,180.6 227.4,185.5 221.5,185.1" fill="#f4f4f2"/>
<rect x="112.5" y="182.8" width="5.2" height="3.6" fill="#d42a2c"/>
<rect x="112.8" y="186.4" width="4.6" height="2.4" fill="#ac2022"/>
<ellipse cx="116.2" cy="183.3" rx="3.3" ry="4.5" fill="#54453f"/>
<ellipse cx="116.3" cy="178.7" rx="1.7" ry="1.8" fill="#3a2a22"/>
<polygon points="114.3,181.3 120.2,180.4 120.5,185.4 114.6,186.3" fill="#f4f4f2"/>
<ellipse cx="257.6" cy="184.4" rx="3.3" ry="4.6" fill="#8a8a90"/>
<ellipse cx="257.5" cy="179.9" rx="1.7" ry="1.8" fill="#c8a088"/>
<polygon points="256.3,182.1 262.2,181 262.4,186.1 256.5,187.1" fill="#f4f4f2"/>
<ellipse cx="149.3" cy="184.8" rx="3.3" ry="4.6" fill="#25252d"/>
<ellipse cx="149" cy="180.2" rx="1.7" ry="1.8" fill="#4a3a30"/>
<ellipse cx="131.6" cy="185.6" rx="3.3" ry="4.6" fill="#54453f"/>
<ellipse cx="132.1" cy="181" rx="1.7" ry="1.8" fill="#4a3a30"/>
<ellipse cx="180.5" cy="185.9" rx="3.3" ry="4.6" fill="#1c1c22"/>
<ellipse cx="180.3" cy="181.3" rx="1.7" ry="1.8" fill="#6a4a3a"/>
<polygon points="180.1,184.7 186.1,183.9 186.3,188.9 180.3,189.7" fill="#f4f4f2"/>
<rect x="193.5" y="186.6" width="5.2" height="3.6" fill="#d42a2c"/>
<rect x="193.8" y="190.2" width="4.6" height="2.4" fill="#ac2022"/>
<ellipse cx="198.3" cy="187.1" rx="3.3" ry="4.6" fill="#30303a"/>
<ellipse cx="198.7" cy="182.5" rx="1.7" ry="1.8" fill="#c8a088"/>
<polygon points="194.5,183.8 200.5,183.6 200.8,188.6 194.8,188.9" fill="#f4f4f2"/>
<ellipse cx="170.1" cy="187.2" rx="3.3" ry="4.6" fill="#5a6a98"/>
<ellipse cx="169.5" cy="182.6" rx="1.7" ry="1.8" fill="#d8c0a8"/>
<polygon points="171,186.9 177,187.3 177.2,192.4 171.2,191.9" fill="#f4f4f2"/>
<rect x="117.9" y="186.8" width="5.2" height="3.6" fill="#d42a2c"/>
<rect x="118.2" y="190.4" width="4.6" height="2.4" fill="#ac2022"/>
<ellipse cx="123.4" cy="187.3" rx="3.3" ry="4.6" fill="#3a3038"/>
<ellipse cx="123.4" cy="182.7" rx="1.7" ry="1.8" fill="#d0b090"/>
<polygon points="123.1,185.6 129.1,184.3 129.4,189.3 123.4,190.7" fill="#f4f4f2"/>
<ellipse cx="140.7" cy="187.3" rx="3.3" ry="4.6" fill="#8a8a90"/>
<ellipse cx="140.6" cy="182.7" rx="1.7" ry="1.8" fill="#6a4a3a"/>
<polygon points="140.1,187.1 146.1,185.8 146.3,190.9 140.3,192.2" fill="#f4f4f2"/>
<ellipse cx="189.1" cy="187.4" rx="3.3" ry="4.6" fill="#30303a"/>
<ellipse cx="189.7" cy="182.8" rx="1.7" ry="1.8" fill="#b89078"/>
<polygon points="185.7,185.6 191.7,185.4 191.9,190.5 185.9,190.7" fill="#f4f4f2"/>
<ellipse cx="246.2" cy="189.5" rx="3.4" ry="4.7" fill="#2b2b33"/>
<ellipse cx="246.8" cy="184.9" rx="1.7" ry="1.9" fill="#4a3a30"/>
<polygon points="245.9,187.5 252,187.8 252.2,192.9 246.2,192.6" fill="#f4f4f2"/>
<ellipse cx="208" cy="189.6" rx="3.4" ry="4.7" fill="#23232b"/>
<ellipse cx="208.7" cy="184.9" rx="1.7" ry="1.9" fill="#c8a088"/>
<rect x="212.5" y="189.3" width="5.2" height="3.6" fill="#d42a2c"/>
<rect x="212.8" y="192.9" width="4.6" height="2.4" fill="#ac2022"/>
<ellipse cx="217.2" cy="189.8" rx="3.4" ry="4.7" fill="#7a3030"/>
<ellipse cx="216.5" cy="185.1" rx="1.7" ry="1.9" fill="#d8c0a8"/>
<ellipse cx="112.7" cy="190" rx="3.4" ry="4.7" fill="#2b2b33"/>
<ellipse cx="112" cy="185.4" rx="1.7" ry="1.9" fill="#d0b090"/>
<polygon points="110.8,186.9 116.9,186.4 117.1,191.5 111,192" fill="#f4f4f2"/>
<ellipse cx="150.3" cy="191.6" rx="3.4" ry="4.7" fill="#1f1f27"/>
<ellipse cx="150" cy="186.9" rx="1.8" ry="1.9" fill="#8a8a8a"/>
<ellipse cx="161.5" cy="191.7" rx="3.4" ry="4.7" fill="#d8d4cc"/>
<ellipse cx="161.7" cy="187" rx="1.8" ry="1.9" fill="#d8c0a8"/>
<polygon points="159.6,191.2 165.7,189.7 166,194.9 159.9,196.3" fill="#f4f4f2"/>
<rect x="254.7" y="191.5" width="5.2" height="3.6" fill="#d42a2c"/>
<rect x="255" y="195.1" width="4.6" height="2.4" fill="#ac2022"/>
<ellipse cx="256.4" cy="192" rx="3.4" ry="4.7" fill="#5a6a98"/>
<ellipse cx="255.9" cy="187.3" rx="1.8" ry="1.9" fill="#d0b090"/>
<polygon points="254.4,190 260.5,190.4 260.7,195.6 254.6,195.1" fill="#f4f4f2"/>
<ellipse cx="231.6" cy="192.1" rx="3.4" ry="4.7" fill="#3d4f78"/>
<ellipse cx="231.4" cy="187.4" rx="1.8" ry="1.9" fill="#3a2a22"/>
<ellipse cx="177.8" cy="193.7" rx="3.4" ry="4.7" fill="#33333d"/>
<ellipse cx="177.3" cy="188.9" rx="1.8" ry="1.9" fill="#4a3a30"/>
<ellipse cx="122.3" cy="195.2" rx="3.4" ry="4.8" fill="#c8c8cc"/>
<ellipse cx="122.6" cy="190.5" rx="1.8" ry="1.9" fill="#6a4a3a"/>
<polygon points="123.7,192.3 129.9,191.3 130.1,196.6 123.9,197.5" fill="#f4f4f2"/>
<rect x="131.2" y="195.2" width="5.2" height="3.6" fill="#d42a2c"/>
<rect x="131.5" y="198.8" width="4.6" height="2.4" fill="#ac2022"/>
<ellipse cx="134.2" cy="195.7" rx="3.5" ry="4.8" fill="#1f1f27"/>
<ellipse cx="134" cy="191" rx="1.8" ry="1.9" fill="#b89078"/>
<rect x="112.1" y="197" width="5.2" height="3.6" fill="#d42a2c"/>
<rect x="112.4" y="200.6" width="4.6" height="2.4" fill="#ac2022"/>
<ellipse cx="112.9" cy="197.5" rx="3.5" ry="4.8" fill="#c23a2c"/>
<ellipse cx="113.6" cy="192.7" rx="1.8" ry="1.9" fill="#8a8a8a"/>
<polygon points="110.6,194.3 116.9,193.7 117.1,199 110.9,199.6" fill="#f4f4f2"/>
<ellipse cx="199.9" cy="197.5" rx="3.5" ry="4.8" fill="#c23a2c"/>
<ellipse cx="199.7" cy="192.7" rx="1.8" ry="1.9" fill="#6a4a3a"/>
<polygon points="196,196 202.2,195.9 202.4,201.2 196.2,201.3" fill="#f4f4f2"/>
<ellipse cx="222.6" cy="197.8" rx="3.5" ry="4.8" fill="#54453f"/>
<ellipse cx="222.7" cy="193" rx="1.8" ry="1.9" fill="#4a3a30"/>
<polygon points="218.7,198.1 224.9,198 225.1,203.3 218.9,203.4" fill="#f4f4f2"/>
<ellipse cx="186" cy="198.2" rx="3.5" ry="4.8" fill="#2b2b33"/>
<ellipse cx="185.5" cy="193.4" rx="1.8" ry="1.9" fill="#d0b090"/>
<ellipse cx="146" cy="199.6" rx="3.5" ry="4.8" fill="#33333d"/>
<ellipse cx="146" cy="194.8" rx="1.8" ry="1.9" fill="#c8a088"/>
<ellipse cx="167.3" cy="199.7" rx="3.5" ry="4.8" fill="#3d4f78"/>
<ellipse cx="167.8" cy="194.8" rx="1.8" ry="1.9" fill="#b89078"/>
<ellipse cx="248.3" cy="199.9" rx="3.5" ry="4.8" fill="#25252d"/>
<ellipse cx="248" cy="195.1" rx="1.8" ry="1.9" fill="#d8c0a8"/>
<polygon points="246.3,197.9 252.6,197.9 252.8,203.2 246.6,203.2" fill="#f4f4f2"/>
<ellipse cx="211.6" cy="199.9" rx="3.5" ry="4.8" fill="#5a6a98"/>
<ellipse cx="211.4" cy="195.1" rx="1.8" ry="1.9" fill="#b89078"/>
<ellipse cx="176.7" cy="201" rx="3.5" ry="4.9" fill="#2a2a35"/>
<ellipse cx="177.3" cy="196.2" rx="1.8" ry="1.9" fill="#6a4a3a"/>
<ellipse cx="237.1" cy="201.9" rx="3.5" ry="4.9" fill="#7a3030"/>
<ellipse cx="237.6" cy="197" rx="1.8" ry="1.9" fill="#3a2a22"/>
<rect x="258.6" y="201.5" width="5.2" height="3.6" fill="#d42a2c"/>
<rect x="258.9" y="205.1" width="4.6" height="2.4" fill="#ac2022"/>
<ellipse cx="261.3" cy="202" rx="3.5" ry="4.9" fill="#1c1c22"/>
<ellipse cx="262" cy="197.1" rx="1.8" ry="2" fill="#d0b090"/>
<polygon points="262.3,199.2 268.7,198.4 268.9,203.8 262.6,204.5" fill="#f4f4f2"/>
<ellipse cx="154.7" cy="202.2" rx="3.5" ry="4.9" fill="#5a6a98"/>
<ellipse cx="154.7" cy="197.3" rx="1.8" ry="2" fill="#3a2a22"/>
<ellipse cx="130" cy="202.3" rx="3.5" ry="4.9" fill="#2a2a35"/>
<ellipse cx="129.8" cy="197.4" rx="1.8" ry="2" fill="#d0b090"/>
<polygon points="130.1,200.5 136.5,201 136.7,206.4 130.4,205.9" fill="#f4f4f2"/>
<ellipse cx="119.9" cy="202.4" rx="3.5" ry="4.9" fill="#3a3038"/>
<ellipse cx="120.4" cy="197.5" rx="1.8" ry="2" fill="#b89078"/>
<polygon points="115.7,201.9 122.1,201.6 122.3,207 116,207.3" fill="#f4f4f2"/>
<rect x="175.7" y="155.4" width="13" height="9.5" fill="#454548"/>
<ellipse cx="184.3" cy="148.5" rx="2.8" ry="6.8" fill="#1c1c22"/>
<ellipse cx="184.3" cy="141" rx="1.5" ry="1.6" fill="#b89078"/>
<ellipse cx="192.3" cy="139" rx="2.8" ry="4.6" fill="#e8e8e8"/>
<ellipse cx="192.3" cy="134" rx="1.4" ry="1.5" fill="#a88068"/>
<ellipse cx="206" cy="147.5" rx="9" ry="5.5" fill="#3a3028" opacity="0.8" filter="url(#b3)"/>
<ellipse cx="72" cy="156" rx="4.6" ry="3.6" fill="#7a4a38"/>
<ellipse cx="82" cy="157.5" rx="4.6" ry="3.4" fill="#8a5a40"/>
<ellipse cx="77" cy="151" rx="4" ry="3" fill="#6a4434"/>
<ellipse cx="74.5" cy="150.6" rx="4.4" ry="1.7" fill="#e4dfd0"/>
<ellipse cx="76" cy="144" rx="3" ry="4.6" fill="#26343a"/>
<ellipse cx="67" cy="148" rx="3" ry="3.8" fill="#6a3030"/>
<ellipse cx="86" cy="148" rx="3" ry="4" fill="#30303a"/>
<ellipse cx="70" cy="162" rx="3.4" ry="2.6" fill="#6a4a3a"/>
<ellipse cx="84" cy="163" rx="3.4" ry="2.6" fill="#5a4034"/>
<rect x="97.5" y="159" width="7" height="11" fill="#2a2a30"/>
<rect x="88" y="169.6" width="11.7" height="4.4" fill="#8a92a8"/>
<ellipse cx="96" cy="121" rx="4" ry="5" fill="#dcdcdc"/>
<ellipse cx="93" cy="130" rx="3" ry="4" fill="#2a2a30"/>
<ellipse cx="250" cy="196" rx="4.3" ry="6" fill="#6a7a9a"/>
<ellipse cx="250.7" cy="190" rx="2.2" ry="2.4" fill="#6a4a3a"/>
<ellipse cx="256" cy="188" rx="3.8" ry="5.2" fill="#2a2a32"/>
<ellipse cx="255.6" cy="182.8" rx="2" ry="2.1" fill="#c8a088"/>
<polygon points="255.9,188.9 262.1,187.8 262.4,193.1 256.1,194.2" fill="#f4f4f2"/>
<ellipse cx="237" cy="177" rx="3.8" ry="5.2" fill="#23232b"/>
<ellipse cx="237.2" cy="171.8" rx="2" ry="2.1" fill="#8a8a8a"/>
<ellipse cx="214.5" cy="167" rx="3.5" ry="4.8" fill="#23232b"/>
<ellipse cx="214.2" cy="162.2" rx="1.8" ry="1.9" fill="#d0b090"/>
<ellipse cx="149" cy="193" rx="4.3" ry="6" fill="#c8402c"/>
<ellipse cx="148.6" cy="187" rx="2.2" ry="2.4" fill="#3a2a22"/>
</g>
<g filter="url(#b1)">
<rect x="7.7" y="176.8" width="7.7" height="5" fill="#d62a2c"/>
<rect x="8.1" y="181.8" width="6.9" height="3.4" fill="#aa1e20"/>
<rect x="11.2" y="186.7" width="8.4" height="3" fill="#d62a2c"/>
<rect x="11.6" y="189.7" width="7.6" height="2" fill="#aa1e20"/>
<rect x="8.5" y="198.5" width="9" height="3" fill="#d62a2c"/>
<rect x="8.9" y="201.5" width="8.2" height="2" fill="#aa1e20"/>
<rect x="30" y="163" width="2.8" height="2.2" fill="#d62a2c"/>
<rect x="30.4" y="165.2" width="2" height="1.4" fill="#aa1e20"/>
<rect x="33.5" y="167.2" width="5.5" height="4.2" fill="#d62a2c"/>
<rect x="33.9" y="171.4" width="4.7" height="2.8" fill="#aa1e20"/>
<rect x="40.5" y="172" width="4.2" height="1.8" fill="#d62a2c"/>
<rect x="40.9" y="173.8" width="3.4" height="1.2" fill="#aa1e20"/>
<rect x="37" y="190.2" width="8.4" height="3.4" fill="#d62a2c"/>
<rect x="37.4" y="193.6" width="7.6" height="2.2" fill="#aa1e20"/>
<rect x="42.7" y="195.2" width="9" height="3.8" fill="#d62a2c"/>
<rect x="43.1" y="198.9" width="8.2" height="2.5" fill="#aa1e20"/>
<rect x="67" y="177" width="7" height="3" fill="#d62a2c"/>
<rect x="67.4" y="180" width="6.2" height="2" fill="#aa1e20"/>
<rect x="73.3" y="186.7" width="8.4" height="3" fill="#d62a2c"/>
<rect x="73.7" y="189.7" width="7.6" height="2" fill="#aa1e20"/>
<rect x="24.5" y="186" width="5" height="2.4" fill="#d62a2c"/>
<rect x="24.9" y="188.4" width="4.2" height="1.6" fill="#aa1e20"/>
<ellipse cx="18" cy="175" rx="5.6" ry="6.2" fill="#26262c"/>
<rect x="15" y="171" width="3" height="3" fill="#d8d8d8"/>
<ellipse cx="39.6" cy="183.3" rx="6" ry="6.6" fill="#262c48"/>
<ellipse cx="61.4" cy="190.3" rx="2.8" ry="8.3" fill="#1d1d22"/>
<ellipse cx="33.2" cy="196" rx="3.4" ry="4.4" fill="#15151a"/>
<ellipse cx="27.2" cy="201" rx="3.6" ry="2.6" fill="#15151a"/>
<ellipse cx="26" cy="180" rx="3" ry="5" fill="#2a2a30"/>
<ellipse cx="30" cy="186" rx="3.4" ry="4.4" fill="#222228"/>
<polygon points="52.3,160 57.3,159 57.8,165 52.8,166" fill="#18181c"/>
<line x1="54.8" y1="165" x2="54.8" y2="175" stroke="#444" stroke-width="0.7"/>
<polygon points="58.2,167.4 63.2,166.4 63.7,172.4 58.7,173.4" fill="#18181c"/>
<line x1="60.7" y1="172.4" x2="60.7" y2="182.4" stroke="#444" stroke-width="0.7"/>
<polygon points="48.5,174.3 53.5,173.3 54,179.3 49,180.3" fill="#e6e6e6"/>
<line x1="51" y1="179.3" x2="51" y2="189.3" stroke="#444" stroke-width="0.7"/>
<polygon points="25,168.4 30,167.4 30.5,173.4 25.5,174.4" fill="#e6e6e6"/>
<line x1="27.5" y1="173.4" x2="27.5" y2="183.4" stroke="#444" stroke-width="0.7"/>
</g>
<rect x="27.5" y="10.3" width="20.6" height="7" rx="2" fill="#fbfbf2" opacity="0.5" filter="url(#b2)"/>
<rect x="29" y="11.8" width="17.6" height="4" rx="1.2" fill="#fbfbf2" filter="url(#b1)"/>
<rect x="67.8" y="13.7" width="13.7" height="7" rx="2" fill="#fbfbf2" opacity="0.5" filter="url(#b2)"/>
<rect x="69.3" y="15.2" width="10.7" height="4" rx="1.2" fill="#fbfbf2" filter="url(#b1)"/>
<rect x="101" y="16" width="15.5" height="7" rx="2" fill="#fbfbf2" opacity="0.5" filter="url(#b2)"/>
<rect x="102.5" y="17.5" width="12.5" height="4" rx="1.2" fill="#fbfbf2" filter="url(#b1)"/>
<rect x="150.1" y="19" width="14.4" height="7.2" rx="2" fill="#fbfbf2" opacity="0.5" filter="url(#b2)"/>
<rect x="151.6" y="20.5" width="11.4" height="4.2" rx="1.2" fill="#fbfbf2" filter="url(#b1)"/>
<rect x="181.5" y="20.3" width="18.7" height="7.4" rx="2" fill="#fbfbf2" opacity="0.5" filter="url(#b2)"/>
<rect x="183" y="21.8" width="15.7" height="4.4" rx="1.2" fill="#fbfbf2" filter="url(#b1)"/>
<rect x="221.5" y="22" width="19" height="7.5" rx="2" fill="#fbfbf2" opacity="0.5" filter="url(#b2)"/>
<rect x="223" y="23.5" width="16" height="4.5" rx="1.2" fill="#fbfbf2" filter="url(#b1)"/>
<rect x="272.8" y="24.5" width="26.4" height="8.4" rx="2" fill="#fbfbf2" opacity="0.5" filter="url(#b2)"/>
<rect x="274.3" y="26" width="23.4" height="5.4" rx="1.2" fill="#fbfbf2" filter="url(#b1)"/>
<rect x="0" y="40.7" width="10.2" height="2.6" rx="1.2" fill="#c4c4c0" filter="url(#b1)"/>
<rect x="18.5" y="38.1" width="17" height="6.4" rx="2" fill="#fbfbf2" opacity="0.5" filter="url(#b2)"/>
<rect x="20" y="39.6" width="14" height="3.4" rx="1.2" fill="#fbfbf2" filter="url(#b1)"/>
<rect x="39.3" y="38.1" width="21.4" height="6.4" rx="2" fill="#fbfbf2" opacity="0.5" filter="url(#b2)"/>
<rect x="40.8" y="39.6" width="18.4" height="3.4" rx="1.2" fill="#fbfbf2" filter="url(#b1)"/>
<rect x="81.1" y="38.1" width="18" height="6.2" rx="2" fill="#fbfbf2" opacity="0.5" filter="url(#b2)"/>
<rect x="82.6" y="39.6" width="15" height="3.2" rx="1.2" fill="#fbfbf2" filter="url(#b1)"/>
<rect x="98.5" y="38.9" width="14" height="6" rx="2" fill="#fbfbf2" opacity="0.5" filter="url(#b2)"/>
<rect x="100" y="40.4" width="11" height="3" rx="1.2" fill="#fbfbf2" filter="url(#b1)"/>
<rect x="62.5" y="40.8" width="6.4" height="2.4" rx="1.2" fill="#9a9a96" filter="url(#b1)"/>
<rect x="73" y="40.8" width="7" height="2.4" rx="1.2" fill="#8a8a86" filter="url(#b1)"/>
<rect x="120.7" y="40.9" width="12.6" height="2.6" rx="1.2" fill="#d0d0cc" filter="url(#b1)"/>
<rect x="137.5" y="41.8" width="9.5" height="2.6" rx="1.2" fill="#8c8c88" filter="url(#b1)" transform="rotate(3 142.2 43.1)"/>
<rect x="125.5" y="13" width="4.2" height="11" fill="#7c7c7a" filter="url(#b1)"/>
<rect x="156.7" y="44" width="10" height="3" rx="1.2" fill="#6e6e6c" filter="url(#b1)" transform="rotate(6 161.7 45.5)"/>
<rect x="175.6" y="47" width="7.4" height="2.2" rx="1.2" fill="#5c5c5a" filter="url(#b1)" transform="rotate(6 179.3 48.1)"/>
<rect x="203" y="50.8" width="13.4" height="2.6" rx="1.2" fill="#9c9c98" filter="url(#b1)" transform="rotate(5 209.7 52.1)"/>
<rect x="239" y="56" width="17.7" height="2.6" rx="1.2" fill="#a2a29e" filter="url(#b1)" transform="rotate(5 247.8 57.3)"/>
<rect x="271.5" y="59.3" width="27.7" height="6.4" rx="2" fill="#b6b6b0" opacity="0.5" filter="url(#b2)" transform="rotate(5 285.4 62.5)"/>
<rect x="273" y="60.8" width="24.7" height="3.4" rx="1.2" fill="#b6b6b0" filter="url(#b1)" transform="rotate(5 285.4 62.5)"/>
<ellipse cx="26.4" cy="28.2" rx="1.3" ry="1.3" fill="#e0e0e0" filter="url(#b1)"/>
<ellipse cx="174.6" cy="87" rx="1.8" ry="1.8" fill="#f8f8f4" filter="url(#b1)"/>
<ellipse cx="245.3" cy="43.3" rx="1.2" ry="1.2" fill="#d8d8d8" filter="url(#b1)"/>
<ellipse cx="260" cy="60.5" rx="2.2" ry="2.2" fill="#9a9a94" filter="url(#b1)"/>
<ellipse cx="241.6" cy="19" rx="1.6" ry="1.6" fill="#8a8a88" filter="url(#b1)"/>
<ellipse cx="274.3" cy="87" rx="2.2" ry="2.2" fill="#8a8a80" filter="url(#b1)"/>
<line x1="275.6" y1="68" x2="274" y2="103" stroke="#4a4a4a" stroke-width="1.0"/>
<rect x="0" y="0" width="300" height="1" fill="#ffffff" opacity="0.4"/>
</svg><!--/PHOTO--></div>
<div id="grey"></div>

<div class="t l" id="l1" style="left:335.3px;top:56px;letter-spacing:-0.32px">Purpose</div>
<div class="t v" id="v1" style="left:431.7px;top:56px;letter-spacing:0.23px">Reverberation for concert,</div>
<div class="t v" id="v1b" style="left:431.7px;top:72px;letter-spacing:0.03px">Early Reflection for rehearsal</div>

<div class="t l" id="l2" style="left:334.8px;top:107px;letter-spacing:-0.16px">Capacity(N)</div>
<div class="t v" id="v2" style="left:431.6px;top:105px">-</div>

<div class="t l" id="l3" style="left:335.0px;top:131px;letter-spacing:0.3px">Completed</div>
<div class="t v" id="v3" style="left:431.6px;top:131px;letter-spacing:-0.1px">2013</div>

<div class="t l" id="l4" style="left:335.8px;top:155px;letter-spacing:0.08px">Volume(m<sup>3</sup>)</div>
<div class="t v" id="v4" style="left:432.1px;top:155px;letter-spacing:-0.18px">10875</div>

<div class="t l" id="l5" style="left:338.0px;top:181px;letter-spacing:0.08px">V/N(m<sup>3</sup>)</div>
<div class="t v" id="v5" style="left:431.6px;top:181px">-</div>

<div class="t l" id="l6" style="left:335.4px;top:205px;letter-spacing:-0.44px">System</div>
<div class="t v" id="v6" style="left:432.2px;top:205px;letter-spacing:-0.01px">2 (Early Reflection, Reverberation)</div>

<div class="t l" id="l7" style="left:335.4px;top:231px;letter-spacing:0.24px">Microphone</div>
<div class="t v" id="v7" style="left:432.0px;top:231px;letter-spacing:-0.4px">12</div>

<div class="t l" id="l8" style="left:335.4px;top:259px;letter-spacing:-0.6px">Speaker</div>
<div class="t v d" id="v8" style="left:432.9px;top:259px;letter-spacing:-0.98px">ER: 24</div>
<div class="t v d" id="v8b" style="left:432.9px;top:285px;letter-spacing:-0.58px">REV: 20</div>

<div class="t l" id="l9" style="left:335.4px;top:325px;letter-spacing:-0.52px">RT off (sec)</div>
<div class="t v" id="v9" style="left:432.1px;top:325px;letter-spacing:-0.6px">1.2</div>

<div class="t l" id="l10" style="left:335.4px;top:350px;letter-spacing:-0.62px">RT on (sec)</div>
<div class="t v d" id="v10" style="left:432.1px;top:350px;letter-spacing:-0.55px">2.1</div>
</body>
</html>
